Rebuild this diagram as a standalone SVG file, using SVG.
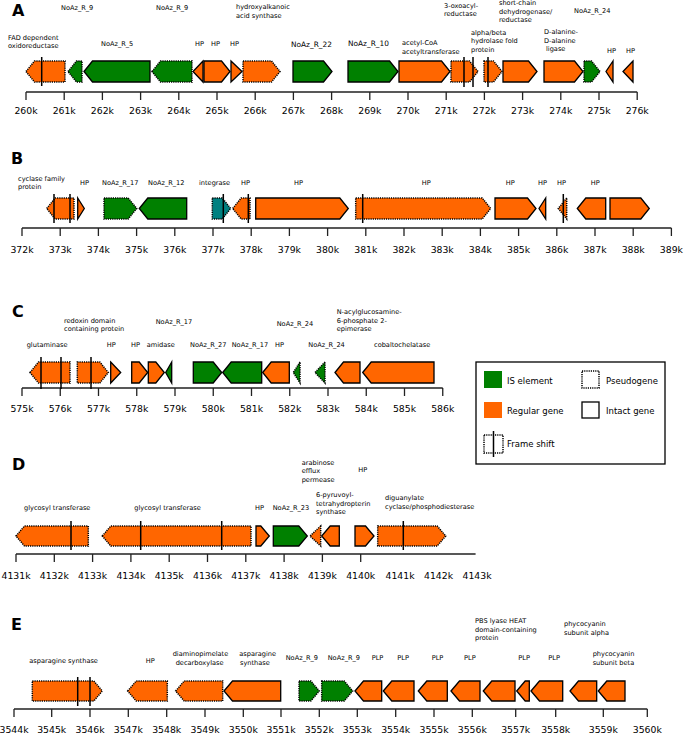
<svg xmlns="http://www.w3.org/2000/svg" width="685" height="734" viewBox="0 0 685 734">
<style>
.o{fill:#ff6600}.g{fill:#008000}.t{fill:#008080}
.s{stroke:#000;stroke-width:1.3}
.p{stroke:#000;stroke-width:1.5;stroke-dasharray:1.2 1}
.fs{stroke:#000;stroke-width:1.5;fill:none}
.axl{stroke:#222;stroke-width:1.3;fill:none}
text{font-family:'DejaVu Sans',sans-serif;fill:#000}
.lb{font-size:6.6px}
.lb2{font-size:7.4px}
.tk{font-size:9.3px;text-anchor:middle}
.ttl{font-size:16px;font-weight:bold}
.lg{font-size:8.5px}
</style>
<rect width="685" height="734" fill="#fff"/>

<!-- Panel titles -->
<text class="ttl" x="12" y="16">A</text>
<text class="ttl" x="11" y="164">B</text>
<text class="ttl" x="12" y="317">C</text>
<text class="ttl" x="12" y="470">D</text>
<text class="ttl" x="11" y="630">E</text>

<!-- Axes -->
<g id="axes">
<path class="axl" d="M26 92H637.2M26 92v8M64.2 92v8M102.4 92v8M140.6 92v8M178.8 92v8M217 92v8M255.2 92v8M293.4 92v8M331.6 92v8M369.8 92v8M408 92v8M446.2 92v8M484.4 92v8M522.6 92v8M560.8 92v8M599 92v8M637.2 92v8"/>
<g>
<text class="tk" x="26" y="113.5">260k</text><text class="tk" x="64.2" y="113.5">261k</text><text class="tk" x="102.4" y="113.5">262k</text><text class="tk" x="140.6" y="113.5">263k</text><text class="tk" x="178.8" y="113.5">264k</text><text class="tk" x="217" y="113.5">265k</text><text class="tk" x="255.2" y="113.5">266k</text><text class="tk" x="293.4" y="113.5">267k</text><text class="tk" x="331.6" y="113.5">268k</text><text class="tk" x="369.8" y="113.5">269k</text><text class="tk" x="408" y="113.5">270k</text><text class="tk" x="446.2" y="113.5">271k</text><text class="tk" x="484.4" y="113.5">272k</text><text class="tk" x="522.6" y="113.5">273k</text><text class="tk" x="560.8" y="113.5">274k</text><text class="tk" x="599" y="113.5">275k</text><text class="tk" x="637.2" y="113.5">276k</text>
</g>
<path class="axl" d="M22 228H671.4M22 228v8M60.2 228v8M98.4 228v8M136.6 228v8M174.8 228v8M213 228v8M251.2 228v8M289.4 228v8M327.6 228v8M365.8 228v8M404 228v8M442.2 228v8M480.4 228v8M518.6 228v8M556.8 228v8M595 228v8M633.2 228v8M671.4 228v8"/>
<g>
<text class="tk" x="22" y="252.5">372k</text><text class="tk" x="60.2" y="252.5">373k</text><text class="tk" x="98.4" y="252.5">374k</text><text class="tk" x="136.6" y="252.5">375k</text><text class="tk" x="174.8" y="252.5">376k</text><text class="tk" x="213" y="252.5">377k</text><text class="tk" x="251.2" y="252.5">378k</text><text class="tk" x="289.4" y="252.5">379k</text><text class="tk" x="327.6" y="252.5">380k</text><text class="tk" x="365.8" y="252.5">381k</text><text class="tk" x="404" y="252.5">382k</text><text class="tk" x="442.2" y="252.5">383k</text><text class="tk" x="480.4" y="252.5">384k</text><text class="tk" x="518.6" y="252.5">385k</text><text class="tk" x="556.8" y="252.5">386k</text><text class="tk" x="595" y="252.5">387k</text><text class="tk" x="633.2" y="252.5">388k</text><text class="tk" x="671.4" y="252.5">389k</text>
</g>
<path class="axl" d="M22 388H442.75M22 388v8M60.25 388v8M98.5 388v8M136.75 388v8M175 388v8M213.25 388v8M251.5 388v8M289.75 388v8M328 388v8M366.25 388v8M404.5 388v8M442.75 388v8"/>
<g>
<text class="tk" x="22" y="411.8">575k</text><text class="tk" x="60.25" y="411.8">576k</text><text class="tk" x="98.5" y="411.8">577k</text><text class="tk" x="136.75" y="411.8">578k</text><text class="tk" x="175" y="411.8">579k</text><text class="tk" x="213.25" y="411.8">580k</text><text class="tk" x="251.5" y="411.8">581k</text><text class="tk" x="289.75" y="411.8">582k</text><text class="tk" x="328" y="411.8">583k</text><text class="tk" x="366.25" y="411.8">584k</text><text class="tk" x="404.5" y="411.8">585k</text><text class="tk" x="442.75" y="411.8">586k</text>
</g>
<path class="axl" d="M16 554H475.6M16 554v8M54.3 554v8M92.6 554v8M130.9 554v8M169.2 554v8M207.5 554v8M245.8 554v8M284.1 554v8M322.4 554v8M360.7 554v8"/>
<g>
<text class="tk" x="16" y="579">4131k</text><text class="tk" x="54.3" y="579">4132k</text><text class="tk" x="92.6" y="579">4133k</text><text class="tk" x="130.9" y="579">4134k</text><text class="tk" x="169.2" y="579">4135k</text><text class="tk" x="207.5" y="579">4136k</text><text class="tk" x="245.8" y="579">4137k</text><text class="tk" x="284.1" y="579">4138k</text><text class="tk" x="322.4" y="579">4139k</text><text class="tk" x="360.7" y="579">4140k</text><text class="tk" x="400" y="579">4141k</text><text class="tk" x="438.5" y="579">4142k</text><text class="tk" x="477" y="579">4143k</text>
</g>
<path class="axl" d="M14 709H647.3M14 709v8M51.7 709v8M90 709v8M128.3 709v8M166.7 709v8M205 709v8M243.3 709v8M281 709v8M319.3 709v8M357.3 709v8M395.7 709v8M434 709v8M472.3 709v8M515.7 709v8M555.7 709v8M603.3 709v8M647.3 709v8"/>
<g>
<text class="tk" x="14" y="732.5">3544k</text><text class="tk" x="51.7" y="732.5">3545k</text><text class="tk" x="90" y="732.5">3546k</text><text class="tk" x="128.3" y="732.5">3547k</text><text class="tk" x="166.7" y="732.5">3548k</text><text class="tk" x="205" y="732.5">3549k</text><text class="tk" x="243.3" y="732.5">3550k</text><text class="tk" x="281" y="732.5">3551k</text><text class="tk" x="319.3" y="732.5">3552k</text><text class="tk" x="357.3" y="732.5">3553k</text><text class="tk" x="395.7" y="732.5">3554k</text><text class="tk" x="434" y="732.5">3555k</text><text class="tk" x="472.3" y="732.5">3556k</text><text class="tk" x="515.7" y="732.5">3557k</text><text class="tk" x="555.7" y="732.5">3558k</text><text class="tk" x="603.3" y="732.5">3559k</text><text class="tk" x="647.3" y="732.5">3560k</text>
</g>
</g>

<!-- Panel A genes -->
<g id="A1"><polygon class="o p" points="26,71.5 34.5,61 65,61 65,82 34.5,82"/><line class="fs" x1="41.7" y1="57" x2="41.7" y2="86"/><text class="lb" x="8" y="40">FAD dependent</text><text class="lb" x="8" y="48">oxidoreductase</text></g>
<g id="A2"><polygon class="g p" points="68,71.5 76.5,61 82,61 82,82 76.5,82"/><text class="lb" x="61" y="9.5">NoAz_R_9</text></g>
<g id="A3"><polygon class="g s" points="84,71.5 92.5,61 150,61 150,82 92.5,82"/><text class="lb" x="101" y="46">NoAz_R_5</text></g>
<g id="A4"><polygon class="g p" points="152,71.5 160.5,61 192,61 192,82 160.5,82"/><text class="lb" x="156" y="9.5">NoAz_R_9</text></g>
<g id="A5"><polygon class="o s" points="203,61 193,71.5 203,82"/><text class="lb" x="195" y="46">HP</text></g>
<g id="A6"><polygon class="o s" points="204,61 221.5,61 230,71.5 221.5,82 204,82"/><text class="lb" x="211" y="46">HP</text></g>
<g id="A7"><polygon class="o s" points="231,61 242,71.5 231,82"/><text class="lb" x="230" y="46">HP</text></g>
<g id="A8"><polygon class="o p" points="243,61 271.5,61 280,71.5 271.5,82 243,82"/><text class="lb" x="236" y="8.5">hydroxyalkanoic</text><text class="lb" x="236" y="17.5">acid synthase</text></g>
<g id="A9"><polygon class="g s" points="293,61 323.5,61 332,71.5 323.5,82 293,82"/><text class="lb2" x="291" y="46.5">NoAz_R_22</text></g>
<g id="A10"><polygon class="g s" points="348,61 389.5,61 398,71.5 389.5,82 348,82"/><text class="lb2" x="348" y="46">NoAz_R_10</text></g>
<g id="A11"><polygon class="o s" points="399,61 441.5,61 450,71.5 441.5,82 399,82"/><text class="lb" x="402" y="44.5">acetyl-CoA</text><text class="lb" x="402" y="53.5">acetyltransferase</text></g>
<g id="A12"><polygon class="o p" points="451,61 469.5,61 478,71.5 469.5,82 451,82"/><line class="fs" x1="464" y1="57" x2="464" y2="87"/><line class="fs" x1="473" y1="57" x2="473" y2="87"/><text class="lb" x="444" y="7.5">3-oxoacyl-</text><text class="lb" x="444" y="16">reductase</text></g>
<g id="A13"><polygon class="o p" points="484,61 493.5,61 502,71.5 493.5,82 484,82"/><line class="fs" x1="488" y1="57" x2="488" y2="87"/><text class="lb" x="471" y="34.5">alpha/beta</text><text class="lb" x="471" y="43">hydrolase fold</text><text class="lb" x="471" y="51.5">protein</text></g>
<g id="A14"><polygon class="o s" points="503,61 528.5,61 537,71.5 528.5,82 503,82"/><text class="lb" x="499" y="5.2">short-chain</text><text class="lb" x="499" y="13.5">dehydrogenase/</text><text class="lb" x="499" y="21.8">reductase</text></g>
<g id="A15"><polygon class="o s" points="544,61 574.5,61 583,71.5 574.5,82 544,82"/><text class="lb" x="544" y="34">D-alanine-</text><text class="lb" x="544" y="42.5">D-alanine</text><text class="lb" x="546" y="51">ligase</text></g>
<g id="A16"><polygon class="g p" points="584,61 591.5,61 600,71.5 591.5,82 584,82"/><text class="lb" x="574" y="12.5">NoAz_R_24</text></g>
<g id="A17"><polygon class="o s" points="613,61 606,71.5 613,82"/><text class="lb" x="607" y="53">HP</text></g>
<g id="A18"><polygon class="o s" points="633,61 623,71.5 633,82"/><text class="lb" x="626" y="53">HP</text></g>

<!-- Panel B genes -->
<g id="B1"><polygon class="o p" points="46.7,208.5 55.2,198 74,198 74,219 55.2,219"/><line class="fs" x1="54" y1="194" x2="54" y2="223"/><line class="fs" x1="70" y1="194" x2="70" y2="223"/><text class="lb" x="18" y="180.5">cyclase family</text><text class="lb" x="18" y="188.5">protein</text></g>
<g id="B2"><polygon class="o s" points="77.7,198 84.3,208.5 77.7,219"/><text class="lb" x="80" y="184.5">HP</text></g>
<g id="B3"><polygon class="g p" points="104,198 128.2,198 136.7,208.5 128.2,219 104,219"/><text class="lb" x="102" y="184.5">NoAz_R_17</text></g>
<g id="B4"><polygon class="g s" points="139.3,208.5 147.8,198 186.7,198 186.7,219 147.8,219"/><text class="lb" x="148" y="184.5">NoAz_R_12</text></g>
<g id="B5"><polygon class="t p" points="212.3,198 222.2,198 230.7,208.5 222.2,219 212.3,219"/><line class="fs" x1="223.3" y1="194" x2="223.3" y2="223"/><text class="lb" x="199" y="184.5">integrase</text></g>
<g id="B6"><polygon class="o p" points="232.7,208.5 241.2,198 250,198 250,219 241.2,219"/><line class="fs" x1="248.3" y1="194" x2="248.3" y2="223"/><text class="lb" x="241" y="184.5">HP</text></g>
<g id="B7"><polygon class="o s" points="255.7,198 339.8,198 348.3,208.5 339.8,219 255.7,219"/><text class="lb" x="294" y="184.5">HP</text></g>
<g id="B8"><polygon class="o p" points="355.7,198 482.2,198 490.7,208.5 482.2,219 355.7,219"/><line class="fs" x1="362.7" y1="194" x2="362.7" y2="223"/><text class="lb" x="421.7" y="184.5">HP</text></g>
<g id="B9"><polygon class="o s" points="495,198 527.5,198 536,208.5 527.5,219 495,219"/><text class="lb" x="505.7" y="184.5">HP</text></g>
<g id="B10"><polygon class="o s" points="545.7,198 539,208.5 545.7,219"/><text class="lb" x="538" y="184.5">HP</text></g>
<g id="B11"><polygon class="o p" points="566.7,198 558.3,208.5 566.7,219"/><line class="fs" x1="563.3" y1="194" x2="563.3" y2="223"/><text class="lb" x="557" y="184.5">HP</text></g>
<g id="B12"><polygon class="o s" points="577.3,208.5 585.8,198 605.7,198 605.7,219 585.8,219"/><text class="lb" x="590.7" y="184.5">HP</text></g>
<g id="B13"><polygon class="o s" points="610,198 640.8,198 649.3,208.5 640.8,219 610,219"/></g>

<!-- Panel C genes -->
<g id="C1"><polygon class="o p" points="30,372.5 38.5,362 70,362 70,383 38.5,383"/><line class="fs" x1="41" y1="357" x2="41" y2="389"/><line class="fs" x1="61" y1="357" x2="61" y2="389"/><text class="lb" x="26.7" y="347">glutaminase</text></g>
<g id="C2"><polygon class="o p" points="77.3,362 99.8,362 108.3,372.5 99.8,383 77.3,383"/><line class="fs" x1="91" y1="357" x2="91" y2="389"/><text class="lb" x="64" y="322.5">redoxin domain</text><text class="lb" x="64" y="331">containing protein</text></g>
<g id="C3"><polygon class="o s" points="110.7,362 120.7,372.5 110.7,383"/><text class="lb" x="106.7" y="347">HP</text></g>
<g id="C4"><polygon class="o s" points="131.7,362 139.2,362 147.7,372.5 139.2,383 131.7,383"/><text class="lb" x="131" y="347">HP</text></g>
<g id="C5"><polygon class="o s" points="148.3,362 155.8,362 164.3,372.5 155.8,383 148.3,383"/><text class="lb" x="146.7" y="347">amidase</text></g>
<g id="C6"><polygon class="g s" points="171.7,362 165.7,372.5 171.7,383"/><text class="lb" x="155.7" y="324">NoAz_R_17</text></g>
<g id="C7"><polygon class="g s" points="193.3,362 213.2,362 221.7,372.5 213.2,383 193.3,383"/><text class="lb" x="190" y="347">NoAz_R_27</text></g>
<g id="C8"><polygon class="g s" points="222.7,372.5 231.2,362 261.7,362 261.7,383 231.2,383"/><text class="lb" x="231.7" y="347">NoAz_R_17</text></g>
<g id="C9"><polygon class="o s" points="262.7,372.5 271.2,362 289.3,362 289.3,383 271.2,383"/><text class="lb" x="275" y="347">HP</text></g>
<g id="C10"><polygon class="g p" points="300,362 293.3,372.5 300,383"/><text class="lb" x="276.7" y="325.5">NoAz_R_24</text></g>
<g id="C11"><polygon class="g p" points="325,362 315,372.5 325,383"/><text class="lb" x="308.3" y="347">NoAz_R_24</text></g>
<g id="C12"><polygon class="o s" points="335,372.5 343.5,362 360,362 360,383 343.5,383"/><text class="lb" x="336.7" y="314">N-acylglucosamine-</text><text class="lb" x="336.7" y="322.5">6-phosphate 2-</text><text class="lb" x="336.7" y="331">epimerase</text></g>
<g id="C13"><polygon class="o s" points="362.7,372.5 371.2,362 434,362 434,383 371.2,383"/><text class="lb" x="374" y="347">cobaltochelatase</text></g>

<!-- Panel D genes -->
<g id="D1"><polygon class="o p" points="16,536 24.5,526 88.3,526 88.3,546 24.5,546"/><line class="fs" x1="71" y1="521" x2="71" y2="550"/><text class="lb" x="24" y="510">glycosyl transferase</text></g>
<g id="D2"><polygon class="o p" points="102.3,536 110.8,526 251,526 251,546 110.8,546"/><line class="fs" x1="140.7" y1="521" x2="140.7" y2="550"/><line class="fs" x1="221.7" y1="521" x2="221.7" y2="550"/><text class="lb" x="134.3" y="510">glycosyl transferase</text></g>
<g id="D3"><polygon class="o s" points="256,526 260.8,526 269.3,536 260.8,546 256,546"/><text class="lb" x="255" y="510">HP</text></g>
<g id="D4"><polygon class="g s" points="273.3,526 298.8,526 307.3,536 298.8,546 273.3,546"/><text class="lb" x="272.7" y="510">NoAz_R_23</text></g>
<g id="D5"><polygon class="o p" points="320.7,526 310,536 320.7,546"/><text class="lb" x="301.7" y="465">arabinose</text><text class="lb" x="301.7" y="473">efflux</text><text class="lb" x="301.7" y="481.5">permease</text></g>
<g id="D6"><polygon class="o s" points="321.7,536 330.2,526 339.3,526 339.3,546 330.2,546"/><text class="lb" x="316" y="497">6-pyruvoyl-</text><text class="lb" x="316" y="505.5">tetrahydropterin</text><text class="lb" x="316" y="514">synthase</text></g>
<g id="D7"><polygon class="o s" points="355,526 365.5,526 374,536 365.5,546 355,546"/><text class="lb" x="358.3" y="471.5">HP</text></g>
<g id="D8"><polygon class="o p" points="377.7,526 437.2,526 445.7,536 437.2,546 377.7,546"/><line class="fs" x1="403.3" y1="521" x2="403.3" y2="550"/><text class="lb" x="385" y="500">diguanylate</text><text class="lb" x="385" y="508.5">cyclase/phosphodiesterase</text></g>

<!-- Panel E genes -->
<g id="E1"><polygon class="o p" points="32.3,681 93.8,681 102.3,691 93.8,701 32.3,701"/><line class="fs" x1="77.7" y1="677" x2="77.7" y2="706"/><line class="fs" x1="90" y1="677" x2="90" y2="706"/><text class="lb" x="29.3" y="662.5">asparagine synthase</text></g>
<g id="E2"><polygon class="o p" points="127.7,691 136.2,681 167.3,681 167.3,701 136.2,701"/><text class="lb" x="145.7" y="662.5">HP</text></g>
<g id="E3"><polygon class="o p" points="175.7,691 184.2,681 222.7,681 222.7,701 184.2,701"/><text class="lb" x="172.7" y="655.5">diaminopimelate</text><text class="lb" x="175.7" y="664.5">decarboxylase</text></g>
<g id="E4"><polygon class="o s" points="224,691 232.5,681 280.7,681 280.7,701 232.5,701"/><text class="lb" x="239.3" y="655.5">asparagine</text><text class="lb" x="240" y="664.5">synthase</text></g>
<g id="E5"><polygon class="g p" points="299,681 310.8,681 319.3,691 310.8,701 299,701"/><text class="lb" x="285.7" y="660">NoAz_R_9</text></g>
<g id="E6"><polygon class="g p" points="321.7,681 344.2,681 352.7,691 344.2,701 321.7,701"/><text class="lb" x="327.7" y="660">NoAz_R_9</text></g>
<g id="E7"><polygon class="o s" points="355,691 363.5,681 381.7,681 381.7,701 363.5,701"/><text class="lb" x="371.7" y="660">PLP</text></g>
<g id="E8"><polygon class="o s" points="383.3,691 391.8,681 414,681 414,701 391.8,701"/><text class="lb" x="397.3" y="660">PLP</text></g>
<g id="E9"><polygon class="o s" points="418.3,691 426.8,681 447.3,681 447.3,701 426.8,701"/><text class="lb" x="431.7" y="660">PLP</text></g>
<g id="E10"><polygon class="o s" points="451,691 459.5,681 480,681 480,701 459.5,701"/><text class="lb" x="464" y="660">PLP</text></g>
<g id="E11"><polygon class="o s" points="483.3,691 491.8,681 515,681 515,701 491.8,701"/><text class="lb" x="475" y="622.5">PBS lyase HEAT</text><text class="lb" x="475" y="631.5">domain-containing</text><text class="lb" x="475" y="640">protein</text></g>
<g id="E12"><polygon class="o s" points="516.7,691 525.2,681 529.3,681 529.3,701 525.2,701"/><text class="lb" x="518.3" y="660">PLP</text></g>
<g id="E13"><polygon class="o s" points="531,691 539.5,681 562.7,681 562.7,701 539.5,701"/><text class="lb" x="548.3" y="660">PLP</text></g>
<g id="E14"><polygon class="o s" points="570,691 578.5,681 596.7,681 596.7,701 578.5,701"/><text class="lb" x="564" y="626">phycocyanin</text><text class="lb" x="564" y="634.5">subunit alpha</text></g>
<g id="E15"><polygon class="o s" points="598.3,691 606.8,681 625,681 625,701 606.8,701"/><text class="lb" x="592.7" y="656">phycocyanin</text><text class="lb" x="592.7" y="664.5">subunit beta</text></g>

<!-- Legend -->
<g id="legend">
<rect x="476" y="362" width="189" height="102" fill="#fff" stroke="#000" stroke-width="1.3"/>
<rect x="484" y="371" width="18" height="17" class="g"/>
<text class="lg" x="507" y="383.5">IS element</text>
<rect x="582" y="371" width="17" height="17" fill="none" class="p"/>
<text class="lg" x="606" y="383.5">Pseudogene</text>
<rect x="484" y="402" width="18" height="16" class="o"/>
<text class="lg" x="507" y="413.5">Regular gene</text>
<rect x="582" y="402" width="17" height="16" fill="none" class="s"/>
<text class="lg" x="606" y="413.5">Intact gene</text>
<rect x="484" y="435" width="19" height="18" fill="none" class="p"/>
<line class="fs" x1="493.5" y1="431" x2="493.5" y2="457"/>
<text class="lg" x="507" y="446.5">Frame shift</text>
</g>
</svg>
